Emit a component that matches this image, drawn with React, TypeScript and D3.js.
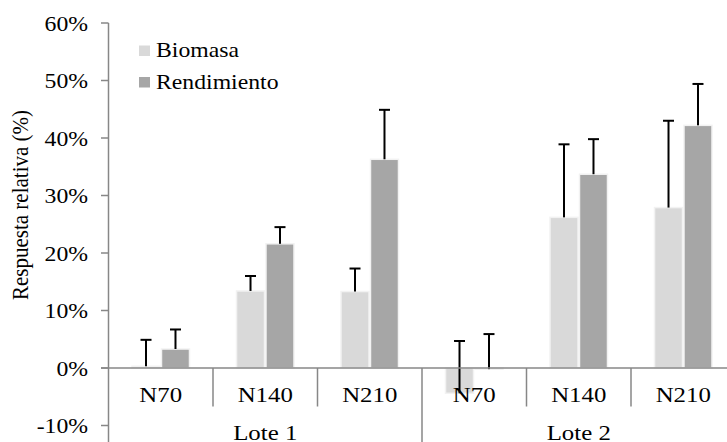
import React from "react";
import * as d3 from "d3";

const groups = ["Lote 1", "Lote 2"];
const categories = ["N70", "N140", "N210"];
const seriesNames = ["Biomasa", "Rendimiento"];
const biomasa = [0.3, 13.4, 13.3, -4.4, 26.2, 27.9];
const biomasaErr = [4.6, 2.6, 4.0, 9.1, 12.7, 15.1];
const rendimiento = [3.3, 21.6, 36.3, -0.2, 33.7, 42.2];
const rendimientoErr = [3.4, 2.9, 8.6, 6.1, 6.1, 7.2];
const yTicks = [-10, 0, 10, 20, 30, 40, 50, 60];
const colors = ["#d9d9d9", "#a6a6a6"];

const W = 727;
const H = 442;
const SX = 1.13;
const FONT = "Liberation Serif, Tinos, Times New Roman, DejaVu Serif, serif";

export default function App() {
  const slots = groups.flatMap((g) => categories.map((c) => `${g}|${c}`));
  const x0 = d3.scaleBand<string>().domain(slots).range([108.5, 735.5]).padding(0);
  const bw = x0.bandwidth();
  const x1 = d3
    .scaleBand<string>()
    .domain(seriesNames)
    .range([bw * 0.225, bw * 0.775])
    .paddingInner(0.05);
  const y = d3.scaleLinear().domain([-10, 60]).range([425.5, 23]);
  const series = [
    { name: seriesNames[0], values: biomasa, errs: biomasaErr, color: colors[0] },
    { name: seriesNames[1], values: rendimiento, errs: rendimientoErr, color: colors[1] },
  ];
  const axisColor = "#878787";
  const y0 = y(0);
  const groupW = bw * categories.length;
  const txt = { fontFamily: FONT, fill: "#000" } as React.CSSProperties;

  return (
    <svg
      width={W}
      height={H}
      style={{ position: "absolute", left: 0, top: 0, background: "#fff" }}
    >
      {series.map((s) =>
        slots.map((slot, i) => {
          const v = s.values[i];
          const bx = (x0(slot) as number) + (x1(s.name) as number);
          const top = Math.min(y(v), y0);
          const h = Math.abs(y(v) - y0);
          return (
            <rect
              key={s.name + slot}
              x={bx}
              y={top}
              width={x1.bandwidth()}
              height={h}
              fill={s.color}
              stroke="#f2f2f2"
              strokeWidth={1.5}
            />
          );
        })
      )}
      {series.map((s) =>
        slots.map((slot, i) => {
          const v = s.values[i];
          const cx = (x0(slot) as number) + (x1(s.name) as number) + x1.bandwidth() / 2;
          const yTop = y(v + s.errs[i]);
          return (
            <g key={"e" + s.name + slot} stroke="#000" strokeWidth={2}>
              <line x1={cx} x2={cx} y1={y(v)} y2={yTop} />
              <line x1={cx - 5.5} x2={cx + 5.5} y1={yTop} y2={yTop} />
            </g>
          );
        })
      )}
      <line x1={108.5} x2={108.5} y1={y(60)} y2={H} stroke={axisColor} strokeWidth={1.5} />
      {yTicks.map((t) => (
        <g key={t}>
          <line x1={101} x2={108.5} y1={y(t)} y2={y(t)} stroke={axisColor} strokeWidth={1.5} />
          <text
            transform={`translate(88,${y(t) + 7.5}) scale(${SX},1)`}
            textAnchor="end"
            fontSize={21}
            style={txt}
          >
            {`${t}%`}
          </text>
        </g>
      ))}
      <line x1={101} x2={W} y1={y0} y2={y0} stroke={axisColor} strokeWidth={1.5} />
      {slots.map((slot, i) => {
        const xs = x0(slot) as number;
        const isGroupEdge = i % categories.length === 0;
        return (
          <g key={"x" + slot}>
            {i > 0 && (
              <line
                x1={xs}
                x2={xs}
                y1={y0}
                y2={isGroupEdge ? H : 406.5}
                stroke={axisColor}
                strokeWidth={1.5}
              />
            )}
            <text
              transform={`translate(${xs + bw / 2},402) scale(${SX},1)`}
              textAnchor="middle"
              fontSize={22}
              style={txt}
            >
              {slot.split("|")[1]}
            </text>
          </g>
        );
      })}
      {groups.map((g) => {
        const gx = (x0(`${g}|${categories[0]}`) as number) + groupW / 2;
        return (
          <text
            key={g}
            transform={`translate(${gx},439.5) scale(${SX},1)`}
            textAnchor="middle"
            fontSize={22}
            style={txt}
          >
            {g}
          </text>
        );
      })}
      <text
        transform={`translate(28,205) rotate(-90) scale(1,${SX})`}
        textAnchor="middle"
        fontSize={21}
        style={txt}
      >
        Respuesta relativa (%)
      </text>
      {series.map((s, i) => (
        <g key={"l" + s.name}>
          <rect x={139} y={45.5 + i * 31.5} width={11} height={10.5} fill={s.color} />
          <text
            transform={`translate(156,${57.3 + i * 32}) scale(${SX},1)`}
            fontSize={21}
            style={txt}
          >
            {s.name}
          </text>
        </g>
      ))}
    </svg>
  );
}
